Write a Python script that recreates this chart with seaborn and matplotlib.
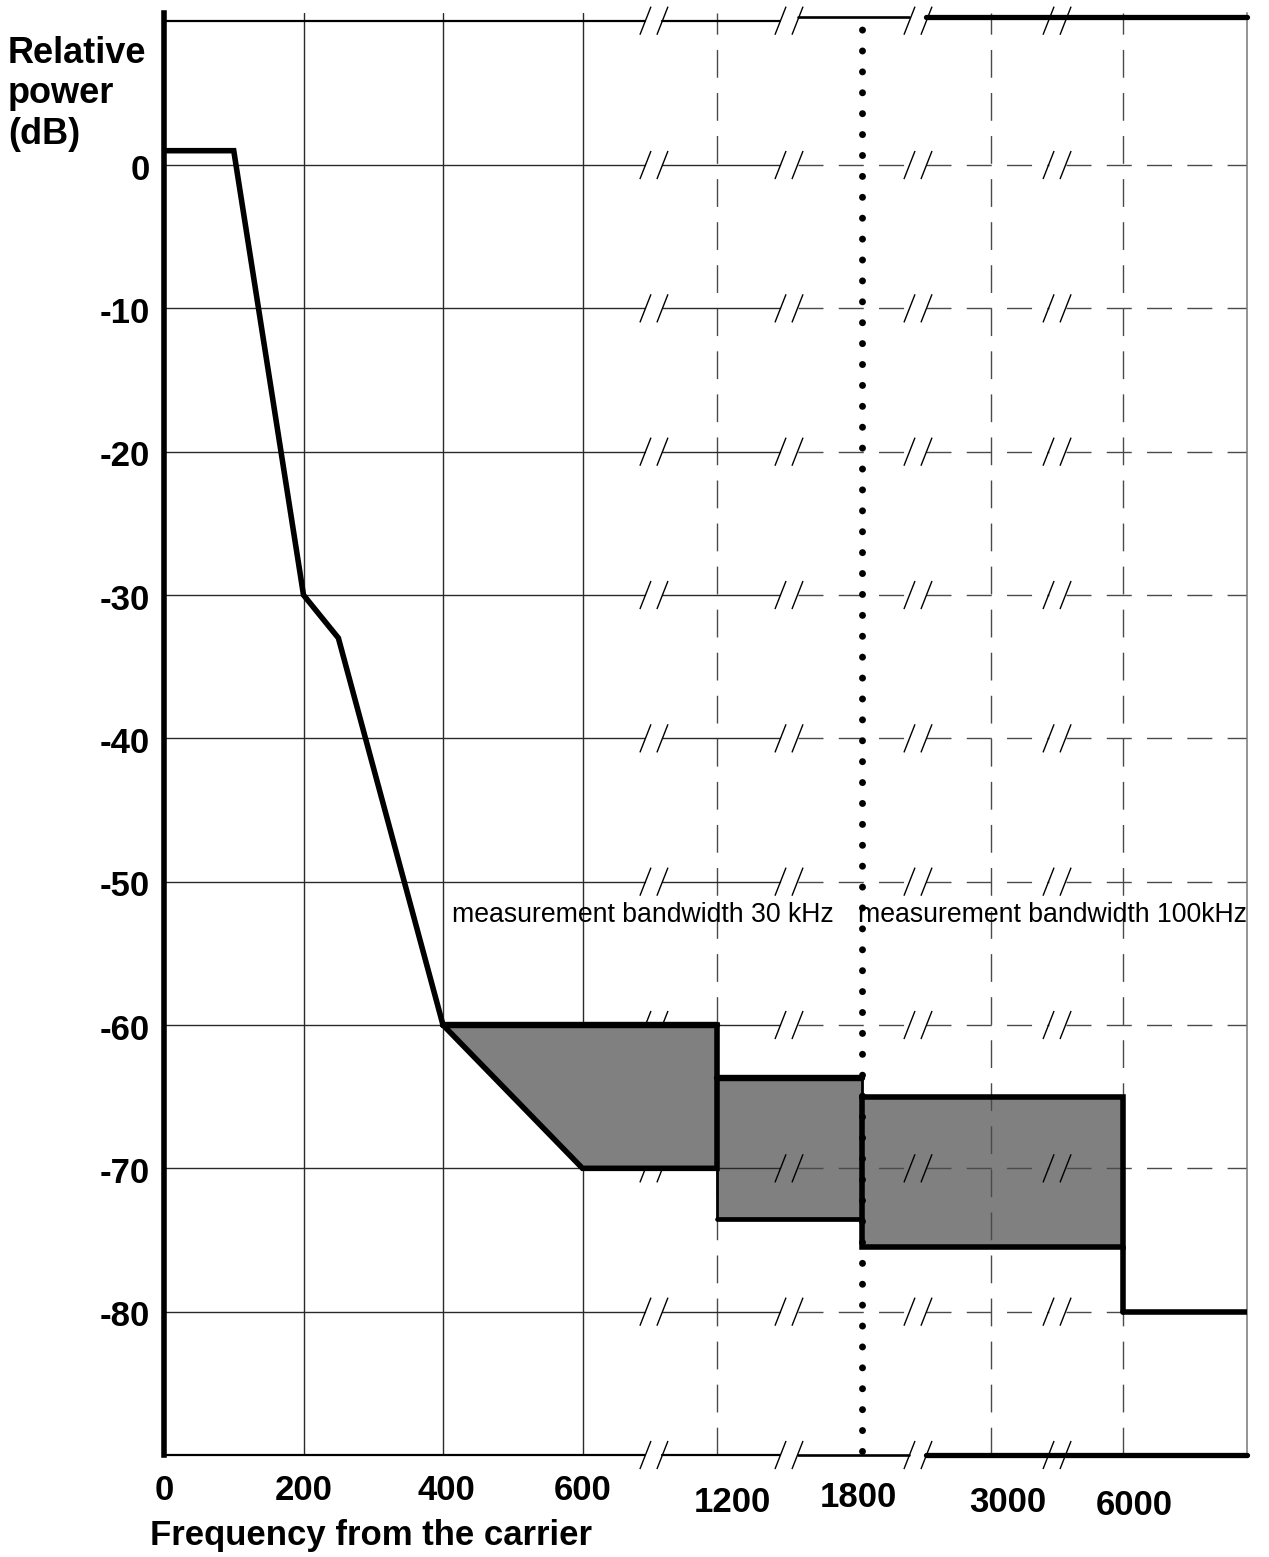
import numpy as np
import matplotlib
matplotlib.use("Agg")
import matplotlib.pyplot as plt
import matplotlib.transforms as mtransforms
import seaborn as sns

# ---------------- data ----------------
curve_freq = [0, 100, 200, 250, 400]
curve_db = [1, 1, -30, -33, -60]

band1_freq = [400, 600, 1200]
band1_upper = [-60, -60, -60]
band1_lower = [-60, -70, -70]

band2_freq = [1200, 1800]
band2_upper = [-63.7, -63.7]
band2_lower = [-73.5, -73.5]

band3_freq = [1800, 6000]
band3_upper = [-65, -65]
band3_lower = [-75.5, -75.5]

tail_freq = [6000, 7000]
tail_db = [-80, -80]

x_ticks = [0, 200, 400, 600, 1200, 1800, 3000, 6000]
x_tick_labels = ["0", "200", "400", "600", "1200", "1800", "3000", "6000"]
y_ticks = [0, -10, -20, -30, -40, -50, -60, -70, -80]
y_tick_labels = ["0", "-10", "-20", "-30", "-40", "-50", "-60", "-70", "-80"]

solid_grid_freq = [200, 400, 600]
dashed_grid_freq = [1200, 3000, 6000]
boundary_freq = 1800

ann_30_text = "measurement bandwidth 30 kHz"
ann_30_freq = 413
ann_100_text = "measurement bandwidth 100kHz"
ann_100_freq = 1783
ann_db = -52.3

# broken (piecewise linear) frequency axis
scale_freq = [0, 200, 400, 600, 1200, 1800, 3000, 6000, 7000]
scale_pos = [0, 139.5, 279, 418.5, 553, 698, 827, 959, 1083]

# ---------------- style ----------------
sns.set_theme(style="white")
plt.rcParams["font.family"] = ["Liberation Sans", "DejaVu Sans"]
plt.rcParams["text.color"] = "black"


def _interp_ext(x, xp, fp):
    x = np.asarray(x, dtype=float)
    y = np.interp(x, xp, fp)
    lo = fp[0] + (x - xp[0]) * (fp[1] - fp[0]) / (xp[1] - xp[0])
    hi = fp[-1] + (x - xp[-1]) * (fp[-1] - fp[-2]) / (xp[-1] - xp[-2])
    y = np.where(x < xp[0], lo, y)
    y = np.where(x > xp[-1], hi, y)
    return y


def fwd(x):
    return _interp_ext(x, scale_freq, scale_pos)


def inv(p):
    return _interp_ext(p, scale_pos, scale_freq)


DPI = 100
fig = plt.figure(figsize=(12.69, 15.57), dpi=DPI)
fig.patch.set_facecolor("white")
ax = fig.add_axes([164 / 1269, 102 / 1557, 1083 / 1269, 1441.9 / 1557])
ax.set_facecolor("white")
ax.set_xscale("function", functions=(fwd, inv))

Y_TOP = 10.6
ax.set_xlim(0, 7000)
ax.set_ylim(-90, Y_TOP)

GRID_C = "#2a2a2a"
DASH_C = "#4a4a4a"

# vertical grid lines
for f in solid_grid_freq:
    ax.axvline(f, color=GRID_C, lw=1.0, zorder=2)
for f in dashed_grid_freq:
    ax.axvline(f, color=DASH_C, lw=1.0, ls=(0, (20, 11)), zorder=2)

# horizontal grid lines with break marks
ytr = ax.get_yaxis_transform()  # x in axes fraction, y in data
brk = [0.4524, 0.5771, 0.6962, 0.8246]
g = 0.00785
bounds = [0.0]
for b in brk:
    bounds += [b - g, b + g]
bounds.append(1.0)
segs = [(bounds[2 * i], bounds[2 * i + 1]) for i in range(5)]


def slashes(yc, zorder=2.5):
    for b in brk:
        for c in (b - g, b + g):
            ax.plot([c - 0.0051, c + 0.0051], [yc - 0.98, yc + 0.98],
                    color="black", lw=1.0, transform=ytr, zorder=zorder,
                    clip_on=False, solid_capstyle="butt")


for yv in y_ticks:
    for i, (a, b) in enumerate(segs):
        if i < 2:
            ax.plot([a, b], [yv, yv], color=GRID_C, lw=1.0, transform=ytr, zorder=2)
        else:
            ax.plot([a, b], [yv, yv], color=DASH_C, lw=1.0, ls=(0, (18, 11)),
                    transform=ytr, zorder=2)
    slashes(yv)

# top and bottom borders (broken)
for ybase, yhi in ((10.07, 10.35), (-90.0, -90.0)):
    ax.plot([segs[0][0], segs[0][1]], [ybase, ybase], color="black", lw=1.6,
            transform=ytr, clip_on=False, zorder=4)
    ax.plot([segs[1][0], segs[1][1]], [ybase, ybase], color="black", lw=1.6,
            transform=ytr, clip_on=False, zorder=4)
    ax.plot([segs[2][0], segs[2][1]], [yhi, yhi], color="black", lw=1.9,
            transform=ytr, clip_on=False, zorder=4)
    ax.plot([segs[3][0], segs[4][1]], [yhi, yhi], color="black", lw=3.8,
            transform=ytr, clip_on=False, zorder=4, solid_capstyle="round")
slashes(10.07, zorder=5)
slashes(-90.0, zorder=5)

# ---------------- shaded mask bands ----------------
FILL = "#808080"
ax.fill_between(band1_freq, band1_lower, band1_upper, color=FILL, lw=0, zorder=3)
ax.fill_between(band2_freq, band2_lower, band2_upper, color=FILL, lw=0, zorder=1)
ax.fill_between(band3_freq, band3_lower, band3_upper, color=FILL, lw=0, zorder=1)

EDGE_W = 4.0
TOP_W = 4.6

# band 1 outline
b1x = band1_freq + band1_freq[::-1] + [band1_freq[0]]
b1y = band1_upper + band1_lower[::-1] + [band1_upper[0]]
ax.plot(b1x, b1y, color="black", lw=EDGE_W, zorder=4, solid_joinstyle="miter")
ax.plot(band1_freq, band1_upper, color="black", lw=TOP_W, zorder=4)

# band 2 outline
ax.plot(band2_freq, band2_upper, color="black", lw=TOP_W, zorder=4, solid_capstyle="round")
ax.plot(band2_freq, band2_lower, color="black", lw=3.4, zorder=4)
ax.plot([band2_freq[0]] * 2, [band2_upper[0], band2_lower[0]], color="black", lw=2.0, zorder=4)
ax.plot([band2_freq[-1]] * 2, [band2_upper[-1], band2_lower[-1]], color="black", lw=2.0, zorder=4)

# band 3 outline
b3x = band3_freq + band3_freq[::-1] + [band3_freq[0]]
b3y = band3_upper + band3_lower[::-1] + [band3_upper[0]]
ax.plot(b3x, b3y, color="black", lw=EDGE_W, zorder=4, solid_joinstyle="miter")
ax.plot([band3_freq[-1]] * 2, [band3_lower[-1], tail_db[0]], color="black", lw=EDGE_W, zorder=4)

# tail
ax.plot(tail_freq, tail_db, color="black", lw=EDGE_W, zorder=4, solid_capstyle="round")

# main curve
sns.lineplot(x=curve_freq, y=curve_db, ax=ax, color="black", linewidth=4.0,
             sort=False, zorder=4)
ax.lines[-1].set_solid_joinstyle("miter")

# bandwidth boundary (dotted)
ax.axvline(boundary_freq, ymin=0.003, ymax=0.995, color="black", lw=5.0,
           ls=(0, (0.01, 3.0)), dash_capstyle="round", zorder=6)

ax.set_xlim(0, 7000)
ax.set_ylim(-90, Y_TOP)

# annotations
ax.text(ann_30_freq, ann_db, ann_30_text, fontsize=19.2, ha="left", va="center",
        color="black", zorder=7)
ax.text(ann_100_freq, ann_db, ann_100_text, fontsize=19.2, ha="left", va="center",
        color="black", zorder=7)

# ---------------- axes / ticks ----------------
for s in ("top", "bottom"):
    ax.spines[s].set_visible(False)
ax.spines["left"].set_color("black")
ax.spines["left"].set_linewidth(4.0)
ax.spines["right"].set_color("#777777")
ax.spines["right"].set_linewidth(1.1)
ax.grid(False)

ax.set_xticks(x_ticks, labels=x_tick_labels, fontsize=25, fontweight="bold")
ax.set_yticks(y_ticks, labels=y_tick_labels, fontsize=25, fontweight="bold")
ax.tick_params(axis="x", length=0, pad=13.5, colors="black")
ax.tick_params(axis="y", length=0, pad=10, colors="black")

x_offsets = {"400": (3, 0), "1200": (15, -12), "1800": (-4, -7),
             "3000": (17, -12), "6000": (11, -15)}
for tick in ax.xaxis.get_major_ticks():
    lab = tick.label1
    dx, dy = x_offsets.get(lab.get_text(), (0, 0))
    lab.set_transform(lab.get_transform() +
                      mtransforms.ScaledTranslation(dx / DPI, dy / DPI, fig.dpi_scale_trans))
for tick in ax.yaxis.get_major_ticks():
    lab = tick.label1
    lab.set_transform(lab.get_transform() +
                      mtransforms.ScaledTranslation(0, -1.5 / DPI, fig.dpi_scale_trans))

ax.set_xlabel("Frequency from the carrier", fontsize=25, fontweight="bold",
              ha="left", va="top", color="black")
ax.xaxis.set_label_coords(-14 / 1083, -64 / 1441.9)
ax.set_ylabel("Relative\npower\n(dB)", fontsize=26, fontweight="bold", rotation=0,
              ha="left", va="top", color="black", linespacing=1.2)
ax.yaxis.set_label_coords(-156 / 1083, (1455 - 36) / 1441.9)

fig.savefig("out.png", dpi=DPI)
